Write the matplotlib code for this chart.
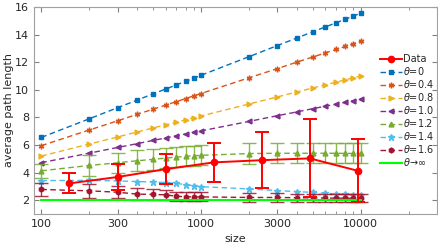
import matplotlib
matplotlib.use("Agg")
import matplotlib.pyplot as plt
import numpy as np
from matplotlib.ticker import FixedLocator, FixedFormatter, LogLocator, NullFormatter

# ---- data ----
sizes = [100, 200, 300, 400, 500, 600, 700, 800, 900, 1000,
         2000, 3000, 4000, 5000, 6000, 7000, 8000, 9000, 10000]

theta0 = [6.55, 7.90, 8.70, 9.26, 9.70, 10.05, 10.35, 10.61, 10.84, 11.05,
          12.40, 13.20, 13.76, 14.20, 14.55, 14.85, 15.11, 15.34, 15.55]
theta04 = [5.95, 7.09, 7.75, 8.23, 8.59, 8.89, 9.14, 9.36, 9.56, 9.73,
           10.87, 11.53, 12.01, 12.37, 12.67, 12.92, 13.14, 13.34, 13.51]
theta08 = [5.20, 6.07, 6.58, 6.95, 7.23, 7.46, 7.65, 7.82, 7.97, 8.10,
           8.97, 9.48, 9.85, 10.13, 10.36, 10.55, 10.72, 10.87, 11.00]
theta10 = [4.72, 5.41, 5.82, 6.10, 6.33, 6.51, 6.66, 6.80, 6.91, 7.02,
           7.71, 8.12, 8.40, 8.63, 8.81, 8.96, 9.10, 9.21, 9.32]
theta12 = [4.13, 4.52, 4.71, 4.86, 4.96, 5.05, 5.12, 5.18, 5.22, 5.25,
           5.38, 5.40, 5.40, 5.40, 5.40, 5.40, 5.39, 5.39, 5.39]
theta12_err = [0.50, 0.78, 0.72, 0.75, 0.74, 0.73, 0.73, 0.73, 0.73, 0.73,
               0.73, 0.73, 0.73, 0.73, 0.73, 0.73, 0.73, 0.73, 0.73]
theta14 = [3.42, 3.44, 3.40, 3.35, 3.32, 3.28, 3.22, 3.13, 3.05, 2.98,
           2.82, 2.70, 2.62, 2.57, 2.50, 2.45, 2.42, 2.40, 2.39]
theta16 = [2.78, 2.68, 2.58, 2.44, 2.42, 2.39, 2.29, 2.25, 2.24, 2.24,
           2.20, 2.20, 2.18, 2.17, 2.16, 2.15, 2.15, 2.14, 2.14]
theta16_err = [0.50, 0.50, 0.45, 0.43, 0.38, 0.34, 0.33, 0.33, 0.33, 0.33,
               0.30, 0.30, 0.30, 0.30, 0.30, 0.30, 0.30, 0.30, 0.30]
theta_inf_x = [100, 10000]
theta_inf = [2, 2]

data_x = [150, 300, 600, 1200, 2400, 4800, 9600]
data_y = [3.22, 3.68, 4.25, 4.74, 4.90, 5.03, 4.13]
data_err = [0.72, 0.95, 1.09, 1.43, 2.03, 2.83, 2.28]

xticks = [100, 300, 1000, 3000, 10000]
xtick_labels = ["100", "300", "1000", "3000", "10000"]
yticks = [2, 4, 6, 8, 10, 12, 14, 16]

labels = ["Data", r"$\theta$=0", r"$\theta$=0.4", r"$\theta$=0.8", r"$\theta$=1.0",
          r"$\theta$=1.2", r"$\theta$=1.4", r"$\theta$=1.6", r"$\theta\!\rightarrow\!\infty$"]

# ---- style ----
c0, c1, c2, c3, c4, c5, c6 = "#0072BD", "#D95319", "#EDB120", "#7E2F8E", "#77AC30", "#4DBEEE", "#A2142F"

fig = plt.figure(figsize=(4.38, 2.48), dpi=100)
ax = fig.add_axes([0.0776, 0.137, 0.92, 0.835])

ls = (0, (4, 2.5))
lw = 1.0
ax.errorbar(data_x, data_y, yerr=data_err, fmt="none", ecolor="#FF0000",
            elinewidth=1.4, capsize=5, capthick=1.4, zorder=6)
h_data, = ax.plot(data_x, data_y, "-", color="#FF0000", marker="o", ms=4.5, lw=1.4,
                  zorder=7, label=labels[0])
h0, = ax.plot(sizes, theta0, ls=ls, color=c0, lw=lw, marker="s", ms=3, label=labels[1])
h1, = ax.plot(sizes, theta04, ls=ls, color=c1, lw=lw, marker=(6, 2, 0), ms=4, mew=1.0, label=labels[2])
h2, = ax.plot(sizes, theta08, ls=ls, color=c2, lw=lw, marker=">", ms=3.5, label=labels[3])
h3, = ax.plot(sizes, theta10, ls=ls, color=c3, lw=lw, marker="<", ms=3.5, label=labels[4])
ax.errorbar(sizes, theta12, yerr=theta12_err, fmt="none", ecolor=c4, elinewidth=1.0,
            capsize=5, capthick=1.0, alpha=0.85)
h4, = ax.plot(sizes, theta12, ls=ls, color=c4, lw=lw, marker="^", ms=3.5, label=labels[5])
h5, = ax.plot(sizes, theta14, ls=ls, color=c5, lw=lw, marker="*", ms=5, label=labels[6])
ax.errorbar(sizes, theta16, yerr=theta16_err, fmt="none", ecolor=c6, elinewidth=1.0,
            capsize=5, capthick=1.0, alpha=0.85)
h6, = ax.plot(sizes, theta16, ls=ls, color=c6, lw=lw, marker="h", ms=3.5, label=labels[7])
h7, = ax.plot(theta_inf_x, theta_inf, "-", color="#00FF00", lw=1.5, label=labels[8])

ax.set_xscale("log")
ax.set_xlim(90, 30000)
ax.set_ylim(1, 16)
ax.xaxis.set_major_locator(FixedLocator(xticks))
ax.xaxis.set_major_formatter(FixedFormatter(xtick_labels))
ax.xaxis.set_minor_locator(LogLocator(base=10, subs=np.arange(1, 10)))
ax.xaxis.set_minor_formatter(NullFormatter())
ax.set_yticks(yticks)

ax.tick_params(which="both", direction="in", top=True, right=True,
               labelsize=8, colors="#808080", labelcolor="#262626")
ax.tick_params(which="major", length=3.5)
ax.tick_params(which="minor", length=2)
for s in ax.spines.values():
    s.set_color("#a0a0a0")
    s.set_linewidth(0.8)

ax.set_xlabel("size", fontsize=8, color="#262626", labelpad=4)
ax.set_ylabel("average path length", fontsize=8, color="#262626", labelpad=1)

leg = ax.legend(handles=[h_data, h0, h1, h2, h3, h4, h5, h6, h7], labels=labels,
                loc="upper left", bbox_to_anchor=(0.859, 0.772), frameon=False,
                fontsize=7, handlelength=2.2, handletextpad=0.15, labelspacing=0.1,
                borderaxespad=0, borderpad=0)
for t in leg.get_texts():
    t.set_color("#262626")

fig.savefig("out.png", dpi=100)
